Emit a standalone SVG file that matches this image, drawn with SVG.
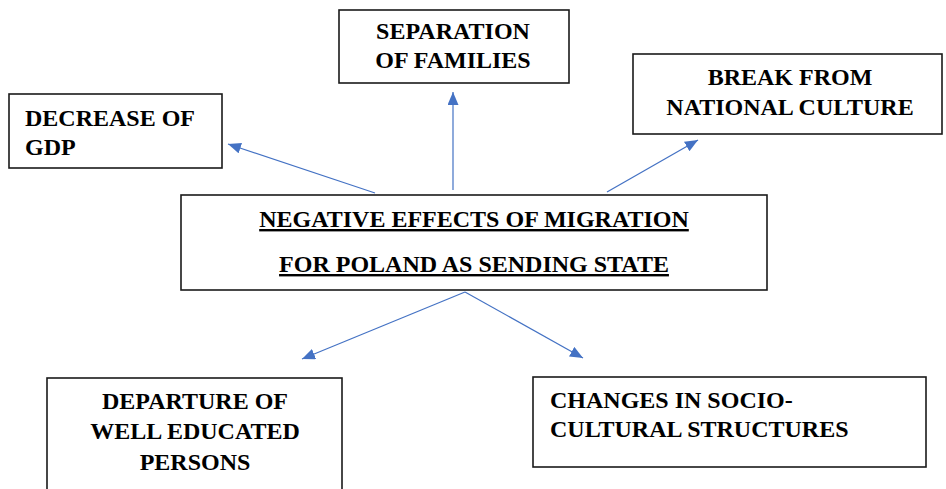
<svg xmlns="http://www.w3.org/2000/svg" width="946" height="489" viewBox="0 0 946 489">
<style>
.box{fill:#fff;stroke:#1a1a1a;stroke-width:1.6}
.t{font-family:'Liberation Serif','Times New Roman',serif;font-weight:bold;font-size:24px;fill:#000}
.c{text-anchor:middle}
.u{text-decoration:underline}
.conn{stroke:#4472C4;stroke-width:1.2;fill:none}
</style>
<defs>
<marker id="ah" markerUnits="userSpaceOnUse" markerWidth="14" markerHeight="12" refX="13" refY="5.5" orient="auto">
<path d="M0,0 L13,5.5 L0,11 Z" fill="#4472C4"/>
</marker>
</defs>
<rect width="946" height="489" fill="#fff"/>
<g id="connectors">
<line class="conn" x1="375" y1="193" x2="228" y2="144" marker-end="url(#ah)"/>
<line class="conn" x1="453" y1="190" x2="453" y2="92" marker-end="url(#ah)"/>
<line class="conn" x1="607" y1="192" x2="698" y2="140" marker-end="url(#ah)"/>
<line class="conn" x1="465" y1="292" x2="302" y2="359" marker-end="url(#ah)"/>
<line class="conn" x1="465" y1="292" x2="583" y2="358" marker-end="url(#ah)"/>
</g>
<g id="node-gdp">
<rect class="box" x="9" y="94" width="213" height="74"/>
<text class="t" x="25" y="126">DECREASE OF</text>
<text class="t" x="25" y="155">GDP</text>
</g>
<g id="node-families">
<rect class="box" x="339" y="10" width="230" height="73"/>
<text class="t c" x="453" y="39">SEPARATION</text>
<text class="t c" x="453" y="68">OF FAMILIES</text>
</g>
<g id="node-culture">
<rect class="box" x="633" y="54" width="309" height="80"/>
<text class="t c" x="790" y="85">BREAK FROM</text>
<text class="t c" x="790" y="115">NATIONAL CULTURE</text>
</g>
<g id="node-center">
<rect class="box" x="181" y="195" width="586" height="95"/>
<text class="t c u" x="474" y="227">NEGATIVE EFFECTS OF MIGRATION</text>
<text class="t c u" x="474" y="272">FOR POLAND AS SENDING STATE</text>
</g>
<g id="node-departure">
<rect class="box" x="47" y="378" width="295" height="120"/>
<text class="t c" x="195" y="409">DEPARTURE OF</text>
<text class="t c" x="195" y="439">WELL EDUCATED</text>
<text class="t c" x="195" y="470">PERSONS</text>
</g>
<g id="node-changes">
<rect class="box" x="533" y="377" width="393" height="90"/>
<text class="t" x="550" y="408">CHANGES IN SOCIO-</text>
<text class="t" x="550" y="437">CULTURAL STRUCTURES</text>
</g>
</svg>
